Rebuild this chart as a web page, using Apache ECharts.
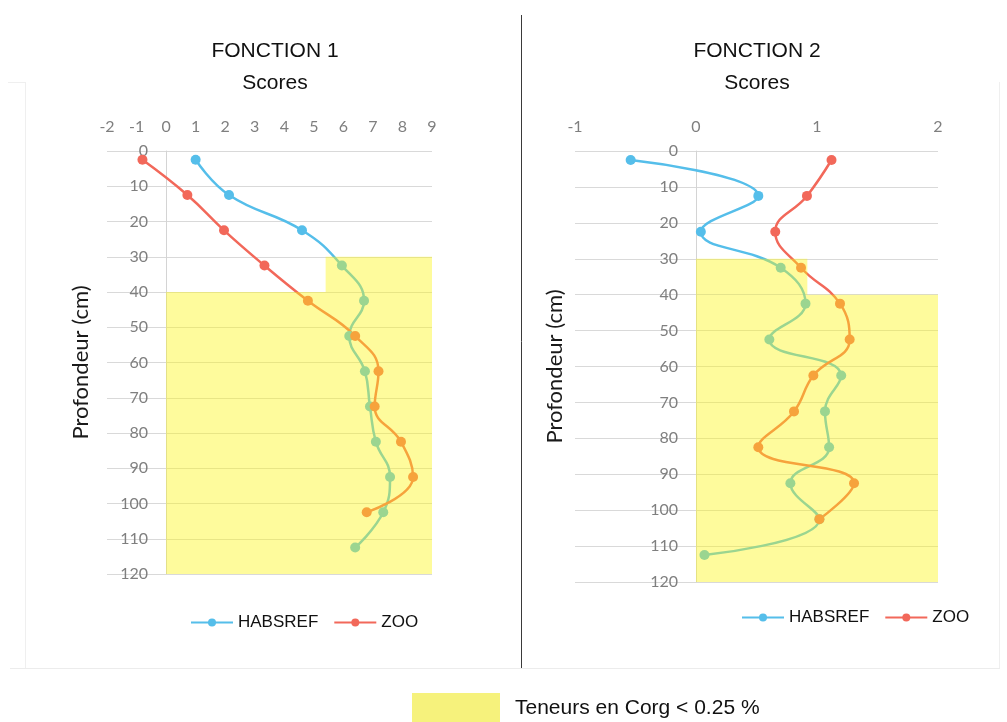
<!DOCTYPE html>
<html><head><meta charset="utf-8">
<script src="https://cdn.jsdelivr.net/npm/echarts@6/dist/echarts.min.js"></script>
<style>html,body{margin:0;padding:0;background:#fff}#c{width:1007px;height:722px}</style>
</head><body><div id="c"></div>
<script>
// ---- data ----
const depthsHabsref = [2.5, 12.5, 22.5, 32.5, 42.5, 52.5, 62.5, 72.5, 82.5, 92.5, 102.5, 112.5];
const depthsZoo = [2.5, 12.5, 22.5, 32.5, 42.5, 52.5, 62.5, 72.5, 82.5, 92.5, 102.5];
const f1Habsref = [1.0, 2.13, 4.6, 5.95, 6.7, 6.2, 6.73, 6.9, 7.1, 7.58, 7.35, 6.4];
const f1Zoo = [-0.8, 0.72, 1.96, 3.33, 4.8, 6.4, 7.19, 7.06, 7.95, 8.36, 6.79];
const f2Habsref = [-0.54, 0.515, 0.04, 0.70, 0.905, 0.606, 1.20, 1.066, 1.10, 0.78, 1.02, 0.07];
const f2Zoo = [1.12, 0.917, 0.655, 0.868, 1.19, 1.27, 0.97, 0.81, 0.515, 1.306, 1.02];
// low Corg zones: [scoreFrom, scoreTo, depthFrom, depthTo]
const f1Zones = [[5.4, 9, 30, 40], [0, 9, 40, 120]];
const f2Zones = [[0, 0.92, 30, 40], [0, 2, 40, 120]];
const f1Range = [-2, 9];
const f2Range = [-1, 2];
const seriesNames = ['HABSREF', 'ZOO'];
const zoneName = 'Teneurs en Corg < 0.25 %';
const chartTitles = ['FONCTION 1', 'FONCTION 2'];
const xAxisTitle = 'Scores';
const yAxisTitle = 'Profondeur (cm)';

// ---- style ----
const BLUE = '#55BEEA';
const RED = '#F2685A';
const ZONE_FILL = 'rgba(252,246,20,0.42)';
const LABEL_FONT = 'Lato';
const SANS = 'Liberation Sans';
const grids = [
  {left: 107, top: 151, width: 325, height: 423},
  {left: 575, top: 151, width: 363, height: 431}
];

const chart = echarts.init(document.getElementById('c'), null, {renderer: 'canvas'});

function pairs(xs, ys) { return xs.map((v, i) => [v, ys[i]]); }

function zoneSeries(idx, zones) {
  return {
    name: zoneName, type: 'custom', xAxisIndex: idx, yAxisIndex: idx, z: 10,
    itemStyle: {color: '#F6F27C'},
    encode: {x: [0, 1], y: [2, 3]},
    silent: true,
    data: zones,
    renderItem: function (params, api) {
      const p1 = api.coord([api.value(0), api.value(2)]);
      const p2 = api.coord([api.value(1), api.value(3)]);
      return {type: 'rect', shape: {x: p1[0], y: p1[1], width: p2[0] - p1[0], height: p2[1] - p1[1]},
              style: {fill: ZONE_FILL}};
    }
  };
}

function lineSeries(idx, name, xs, ys, color) {
  return {
    name: name, type: 'line', xAxisIndex: idx, yAxisIndex: idx, z: 3,
    data: pairs(xs, ys), smooth: 0.45,
    symbol: 'circle', symbolSize: 10,
    itemStyle: {color: color}, lineStyle: {color: color, width: 2.5}
  };
}

function xAxisDef(idx, range) {
  return {
    type: 'value', gridIndex: idx, position: 'top', min: range[0], max: range[1], interval: 1,
    axisLine: {show: false}, axisTick: {show: false}, splitLine: {show: false},
    axisLabel: {color: '#7f7f7f', fontFamily: LABEL_FONT, fontSize: 16, margin: 16}
  };
}
// vertical axis sits where the score axis crosses 0
function yAxisDef(idx, range, gap) {
  const zeroOffset = -(0 - range[0]) / (range[1] - range[0]) * grids[idx].width;
  return {
    type: 'value', gridIndex: idx, inverse: true, min: 0, max: 120, interval: 10,
    offset: zeroOffset,
    axisLine: {show: true, onZero: false, lineStyle: {color: '#d4d4d4', width: 1}},
    axisTick: {show: false},
    splitLine: {show: true, lineStyle: {color: '#d9d9d9', width: 1}},
    axisLabel: {color: '#7f7f7f', fontFamily: LABEL_FONT, fontSize: 16, margin: 18},
    name: yAxisTitle, nameLocation: 'middle', nameRotate: 90, nameGap: gap,
    nameTextStyle: {color: '#1a1a1a', fontFamily: LABEL_FONT, fontSize: 22}
  };
}

function titleText(x, y, t) {
  return {type: 'text', x: x, y: y, silent: true,
          style: {text: t, align: 'center', verticalAlign: 'middle', fill: '#111',
                  font: '21px "Liberation Sans"'}};
}

const legendText = {fontFamily: SANS, fontSize: 17, color: '#111'};

const option = {
  backgroundColor: '#ffffff',
  animation: false,
  grid: grids,
  xAxis: [xAxisDef(0, f1Range), xAxisDef(1, f2Range)],
  yAxis: [yAxisDef(0, f1Range, 74), yAxisDef(1, f2Range, 130)],
  legend: [
    {data: seriesNames, left: 190, top: 614, padding: 0, itemWidth: 42, itemHeight: 10, itemGap: 15,
     textStyle: legendText},
    {data: seriesNames, left: 741, top: 609, padding: 0, itemWidth: 42, itemHeight: 10, itemGap: 15,
     textStyle: legendText},
    {data: [{name: zoneName, icon: 'rect', itemStyle: {color: '#F6F27C'}}], left: 412, top: 693, padding: 0,
     itemWidth: 88, itemHeight: 30, selectedMode: false,
     textStyle: {fontFamily: SANS, fontSize: 21, color: '#111', padding: [0, 0, 0, 10]}}
  ],
  series: [
    lineSeries(0, seriesNames[0], f1Habsref, depthsHabsref, BLUE),
    lineSeries(0, seriesNames[1], f1Zoo, depthsZoo, RED),
    zoneSeries(0, f1Zones),
    lineSeries(1, seriesNames[0], f2Habsref, depthsHabsref, BLUE),
    lineSeries(1, seriesNames[1], f2Zoo, depthsZoo, RED),
    zoneSeries(1, f2Zones)
  ],
  graphic: [
    titleText(275, 51, chartTitles[0]),
    titleText(275, 83, xAxisTitle),
    titleText(757, 51, chartTitles[1]),
    titleText(757, 83, xAxisTitle),
    {type: 'line', silent: true, shape: {x1: 521.5, y1: 15, x2: 521.5, y2: 668}, style: {stroke: '#3a3a3a', lineWidth: 1}},
    {type: 'line', silent: true, shape: {x1: 25.5, y1: 82, x2: 25.5, y2: 668}, style: {stroke: '#efefef', lineWidth: 1}},
    {type: 'line', silent: true, shape: {x1: 8, y1: 82.5, x2: 25, y2: 82.5}, style: {stroke: '#efefef', lineWidth: 1}},
    {type: 'line', silent: true, shape: {x1: 10, y1: 668.5, x2: 1000, y2: 668.5}, style: {stroke: '#ececec', lineWidth: 1}},
    {type: 'line', silent: true, shape: {x1: 999.5, y1: 82, x2: 999.5, y2: 668}, style: {stroke: '#efefef', lineWidth: 1}}
  ]
};
chart.setOption(option);
</script>
</body></html>
